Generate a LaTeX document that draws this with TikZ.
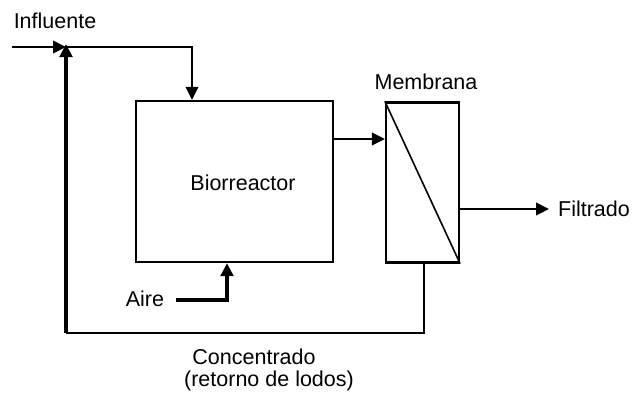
\documentclass[tikz,border=0pt]{standalone}
\usepackage{fontspec}
\setmainfont{Liberation Sans}
\usetikzlibrary{arrows.meta}
\begin{document}
\begin{tikzpicture}[x=1pt,y=-1pt,
  lbl/.style={font=\fontsize{21.5}{25}\selectfont, inner sep=0pt},
  boxx/.style={draw, line width=2.2pt, inner sep=0pt},
  thin/.style={line width=2.2pt},
  thick/.style={line width=3.6pt},
  tri/.style={-{Triangle[length=13pt,width=12.5pt]}}
]
\useasboundingbox (0,0) rectangle (632,394);
% boxes
\node[boxx, minimum width=197pt, minimum height=161pt] (bio) at (234.5,181.5) {};
\node[lbl] (biot) at (243,183) {Biorreactor};
\node[boxx, minimum width=73pt, minimum height=160pt] (mem) at (422.5,182.5) {};
\draw[line width=1.6pt] (mem.north west) -- (mem.south east);
\node[lbl] (memt) at (426,82) {Membrana};
% texts
\node[lbl] (inf) at (55,21) {Influente};
\node[lbl] (fil) at (594,209) {Filtrado};
\node[lbl] (aire) at (145,299) {Aire};
\node[lbl] (conc) at (254,357) {Concentrado};
\node[lbl] (ret) at (269,381) {(retorno de lodos)};
% coordinates
\coordinate (start) at (12,47);
\coordinate (junc) at (66,47);
\coordinate (c1) at (192,47);
\coordinate (c2) at (424,333);
\coordinate (c3) at (66,333);
\coordinate (airin) at (176,300);
\coordinate (airc) at (227,300);
\coordinate (filend) at (549,209);
% influent
\draw[thin, tri] (start) -- (junc);
\draw[thin, tri] (junc) -- (c1) -- (c1 |- bio.north);
% bio -> membrane
\draw[thin, tri] (bio.east |- 0,139) -- (mem.west |- 0,139);
% filtrado
\draw[thin, tri] (mem.east |- filend) -- (filend);
% aire
\draw[thick, tri] (airin) -- (airc) -- (airc |- bio.south);
% recycle
\draw[thin] (mem.south -| c2) -- (c2) -- (c3);
\draw[thick, tri] (c3) -- ([yshift=3pt]junc);
\end{tikzpicture}
\end{document}
